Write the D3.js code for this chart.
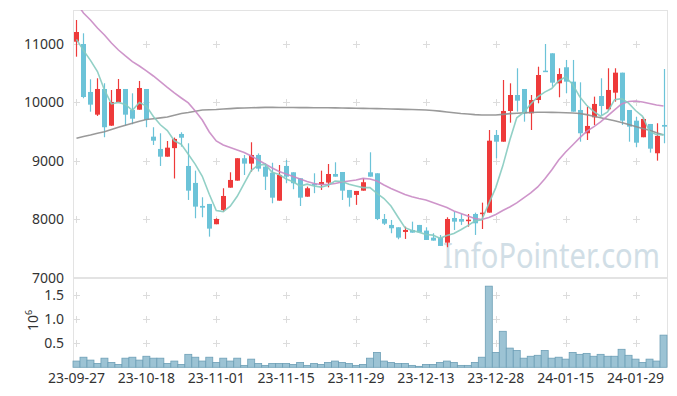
<!DOCTYPE html>
<html><head><meta charset="utf-8">
<script src="https://cdn.jsdelivr.net/npm/d3@7/dist/d3.min.js"></script>
<style>body{margin:0;background:#fff}svg{display:block}</style>
</head><body><svg id="c" width="677" height="396"></svg>
<script>
const dates = ["23-09-27","23-10-04","23-10-05","23-10-06","23-10-10","23-10-11","23-10-12","23-10-13","23-10-16","23-10-17",
"23-10-18","23-10-19","23-10-20","23-10-23","23-10-24","23-10-25","23-10-26","23-10-27","23-10-30","23-10-31",
"23-11-01","23-11-02","23-11-03","23-11-06","23-11-07","23-11-08","23-11-09","23-11-10","23-11-13","23-11-14",
"23-11-15","23-11-16","23-11-17","23-11-20","23-11-21","23-11-22","23-11-23","23-11-24","23-11-27","23-11-28",
"23-11-29","23-11-30","23-12-01","23-12-04","23-12-05","23-12-06","23-12-07","23-12-08","23-12-11","23-12-12",
"23-12-13","23-12-14","23-12-15","23-12-18","23-12-19","23-12-20","23-12-21","23-12-22","23-12-26","23-12-27",
"23-12-28","24-01-02","24-01-03","24-01-04","24-01-05","24-01-08","24-01-09","24-01-10","24-01-11","24-01-12",
"24-01-15","24-01-16","24-01-17","24-01-18","24-01-19","24-01-22","24-01-23","24-01-24","24-01-25","24-01-26",
"24-01-29","24-01-30","24-01-31","24-02-01","24-02-02"];

const open  = [11039,11000,10180,9792,10231,9604,10004,10231,9872,9877,10231,9416,9206,9074,9220,9462,8915,8625,8232,8266,
7919,8163,8544,8664,9047,8955,9103,8903,8800,8322,8915,8807,8705,8390,8610,8590,8630,8778,8812,8505,
8420,8493,8807,8790,8009,7907,7867,7787,7821,7907,7810,7690,7690,7604,8026,8009,7980,8094,8094,8117,
9445,9330,9855,10128,10231,9815,10043,10544,10841,10328,10602,10356,9872,9474,9747,10111,9884,10168,10510,9872,
9689,9406,9633,9132,9616];
const high  = [11410,11183,10397,10414,10329,10214,10402,10231,10157,10368,10231,9577,9474,9342,9400,9491,9303,8835,8380,8266,
8021,8534,8807,9047,9103,9320,9130,8961,8970,8932,9018,8807,8705,8562,8790,8835,8949,8978,8812,8505,
8488,8705,9149,8790,8094,7992,7867,7878,7963,7907,7867,7765,7735,8038,8134,8094,8094,8117,8288,9530,
9530,10385,10328,10585,10231,10128,10612,11000,10841,10585,10727,10727,10345,9929,10100,10414,10585,10585,10510,9872,
9757,9747,9633,9645,10573];
const low   = [10783,10072,9843,9770,9406,9600,10004,9604,9628,9877,9577,9274,8915,9074,8701,9245,8334,8021,8038,7707,
7919,8134,8544,8664,8761,8818,8820,8505,8277,8322,8620,8517,8231,8390,8450,8505,8550,8732,8334,8220,
8250,8493,8732,7990,7907,7765,7662,7668,7775,7782,7650,7639,7548,7526,7821,7907,7878,7736,7838,8117,
9047,9330,9655,9843,9672,9530,9986,10527,10270,10089,10157,9843,9330,9359,9616,9787,9860,10014,9616,9330,
9235,9406,9143,9006,9303];
const close = [11205,10094,9963,10231,9577,10009,10231,9792,9723,10248,9701,9347,9074,9228,9377,9398,8493,8220,8203,7844,
8009,8402,8676,9047,8955,9103,8869,8732,8373,8761,8732,8620,8373,8534,8600,8640,8778,8732,8493,8373,
8488,8637,8732,8009,7929,7850,7690,7821,7775,7782,7650,7639,7548,8009,7963,7963,7997,7935,8117,9347,
9330,9855,10128,10031,9815,10043,10470,10527,10339,10487,10356,9843,9474,9599,9975,9940,10214,10510,9689,9587,
9313,9718,9211,9428,9587];
// volume in millions of shares
const volume = [0.13,0.21,0.15,0.08,0.19,0.10,0.06,0.19,0.21,0.15,0.23,0.19,0.19,0.08,0.13,0.06,0.27,0.21,0.13,0.21,
0.10,0.19,0.13,0.19,0.04,0.17,0.08,0.04,0.08,0.08,0.08,0.06,0.10,0.04,0.08,0.06,0.10,0.13,0.10,0.08,
0.04,0.06,0.19,0.31,0.13,0.10,0.08,0.08,0.04,0.02,0.06,0.06,0.10,0.13,0.10,0.04,0.04,0.10,0.21,1.69,
0.31,0.75,0.40,0.35,0.19,0.23,0.25,0.35,0.19,0.21,0.17,0.31,0.27,0.29,0.23,0.27,0.23,0.23,0.375,0.25,
0.17,0.10,0.17,0.13,0.67];
const ma5 = [11080,10890,10720,10530,10214,9975,10002,9968,9866,10001,9939,9762,9619,9520,9345,9285,9114,8943,8738,8432,
8154,8136,8227,8396,8618,8837,8930,8941,8806,8768,8693,8644,8572,8604,8572,8553,8585,8657,8649,8603,
8573,8545,8545,8448,8359,8231,8042,7860,7813,7784,7744,7733,7679,7726,7762,7824,7896,7973,7995,8272,
8545,8917,9355,9738,9832,9974,10097,10177,10239,10373,10436,10310,10100,9952,9849,9766,9840,10048,10066,9988,
9863,9763,9504,9451,9451];
const ma20 = [11700,11530,11410,11273,11154,11017,10897,10795,10698,10624,10539,10453,10356,10257,10163,10077,9992,9855,9701,9496,
9342,9274,9231,9188,9146,9086,9018,8949,8881,8821,8778,8736,8693,8650,8616,8599,8599,8616,8642,8659,
8676,8702,8693,8659,8590,8531,8479,8428,8390,8360,8334,8291,8249,8206,8146,8103,8061,8018,8001,8035,
8086,8154,8214,8283,8368,8454,8556,8693,8847,9018,9154,9274,9394,9505,9582,9667,9770,9872,9975,10017,
10026,10009,9983,9957,9940];
const ma120 = [9388,9419,9445,9474,9499,9539,9576,9612,9646,9681,9708,9723,9737,9752,9781,9812,9829,9851,9872,9875,
9880,9889,9896,9903,9906,9910,9913,9916,9916,9915,9915,9914,9913,9912,9911,9910,9909,9908,9906,9904,
9902,9900,9898,9896,9893,9890,9887,9882,9879,9875,9872,9864,9852,9838,9824,9812,9804,9793,9787,9785,
9787,9797,9809,9817,9822,9829,9834,9834,9831,9828,9824,9821,9812,9793,9766,9740,9715,9689,9658,9624,
9590,9556,9525,9482,9445];
const priceTicks = [7000,8000,9000,10000,11000];
const volTicks = [0.5,1.0,1.5];
const xTickLabels = ["23-09-27","23-10-18","23-11-01","23-11-15","23-11-29","23-12-13","23-12-28","24-01-15","24-01-29"];

const svg = d3.select("#c");
svg.append("rect").attr("width",677).attr("height",396).attr("fill","#fff");
const L = 73, R = 667, PT = 10, PB = 278, VB = 367.3;
const x = d3.scaleBand().domain(dates).range([L, R]).padding(0);
const xc = d => x(d) + x.bandwidth()/2;
const y = d3.scaleLinear().domain([7000, 11581]).range([PB, PT]);
const yv = d3.scaleLinear().domain([0, 1.86]).range([VB, PB]);
const font = "'Noto Sans', 'DejaVu Sans', sans-serif";

svg.append("defs").append("clipPath").attr("id","clipP")
  .append("rect").attr("x",L).attr("y",PT).attr("width",R-L).attr("height",PB-PT);

// watermark (horizontally condensed to span the same width as the original)
const wm = svg.append("text").attr("font-family",font).attr("font-size",34)
  .attr("fill","#c9d9e2").attr("opacity",0.85).text("InfoPointer.com");
const wmW = wm.node().getComputedTextLength();
wm.attr("transform",`translate(443,268) scale(${217/wmW},1)`);

// grid crosses
const grid = svg.append("g").attr("stroke","#dcdcdc").attr("stroke-width",1);
const cross = (cx, cy) => {
  grid.append("line").attr("x1",cx-3.5).attr("x2",cx+3.5).attr("y1",cy).attr("y2",cy);
  grid.append("line").attr("x1",cx).attr("x2",cx).attr("y1",cy-3.5).attr("y2",cy+3.5);
};
xTickLabels.forEach(d => {
  priceTicks.filter(t=>t>7000).forEach(t => cross(Math.round(xc(d))+0.5, Math.round(y(t))+0.5));
  volTicks.forEach(t => cross(Math.round(xc(d))+0.5, Math.round(yv(t))+0.5));
});

// frame
const fr = svg.append("g").attr("stroke","#e3e3e3").attr("fill","none");
fr.append("line").attr("x1",L).attr("x2",R).attr("y1",PT+0.5).attr("y2",PT+0.5);
fr.append("line").attr("x1",L+0.5).attr("x2",L+0.5).attr("y1",PT).attr("y2",VB);
fr.append("line").attr("x1",R+0.5).attr("x2",R+0.5).attr("y1",PT).attr("y2",VB);
fr.append("line").attr("x1",L).attr("x2",R).attr("y1",PB).attr("y2",PB).attr("stroke-width",2);

// volume bars
svg.append("g").selectAll("rect").data(dates).join("rect")
  .attr("x", d => x(d)).attr("width", x.bandwidth())
  .attr("y", (d,i) => yv(volume[i])).attr("height", (d,i) => VB - yv(volume[i]))
  .attr("fill","#9cc3d4").attr("stroke","#6d9fb6").attr("stroke-width",0.8);

// candles
const up = "#ee3a3a", dn = "#6cc3d8";
const cg = svg.append("g");
dates.forEach((d,i) => {
  const col = close[i] >= open[i] ? up : dn;
  const cx = Math.round(xc(d)) + 0.5;
  cg.append("line").attr("x1",cx).attr("x2",cx).attr("y1",y(high[i])).attr("y2",y(low[i]))
    .attr("stroke",col).attr("stroke-width",1.2);
  const top = y(Math.max(open[i],close[i])), bot = y(Math.min(open[i],close[i]));
  cg.append("rect").attr("x",cx-2.5).attr("width",5).attr("y",top).attr("height",Math.max(1.5,bot-top))
    .attr("fill",col);
});

// moving averages
const lg = svg.append("g").attr("clip-path","url(#clipP)").attr("fill","none");
const mk = arr => d3.line().x((d,i)=>xc(dates[i])).y(d=>y(d))(arr);
lg.append("path").attr("d",mk(ma120)).attr("stroke","#8f8f8f").attr("stroke-width",1.6).attr("opacity",0.9);
lg.append("path").attr("d",mk(ma20)).attr("stroke","#c98ac4").attr("stroke-width",1.6).attr("opacity",0.9);
lg.append("path").attr("d",mk(ma5)).attr("stroke","#86cbc0").attr("stroke-width",1.6).attr("opacity",0.9);

// y axes
const ya = svg.append("g").attr("transform",`translate(${L},0)`)
  .call(d3.axisLeft(y).tickValues(priceTicks).tickFormat(d3.format("d")).tickSize(0).tickPadding(9));
ya.select(".domain").remove();
const yva = svg.append("g").attr("transform",`translate(${L},0)`)
  .call(d3.axisLeft(yv).tickValues(volTicks).tickFormat(d3.format(".1f")).tickSize(0).tickPadding(9));
yva.select(".domain").remove();
svg.selectAll(".tick text").attr("font-family",font).attr("font-size",14).attr("fill","#333");

// x axis
const xa = svg.append("g").attr("transform",`translate(0,${VB})`)
  .call(d3.axisBottom(x).tickValues(xTickLabels).tickSize(0).tickPadding(6));
xa.select(".domain").remove();
xa.selectAll("text").attr("font-family",font).attr("font-size",14).attr("fill","#333");

// 10^6 label
const vl = svg.append("text").attr("transform","translate(38,331) rotate(-90)")
  .attr("font-family",font).attr("font-size",14).attr("fill","#333");
vl.append("tspan").text("10");
vl.append("tspan").attr("dy",-6).attr("font-size",9).text("6");
</script></body></html>
